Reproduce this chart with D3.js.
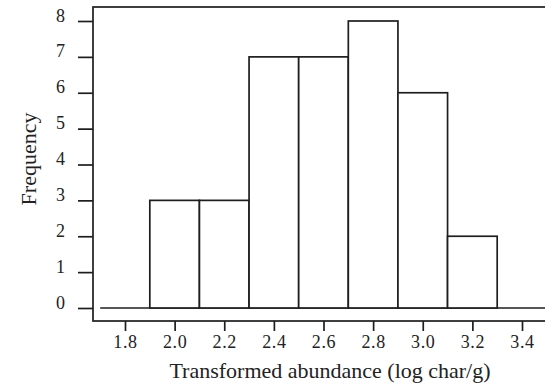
<!DOCTYPE html>
<html>
<head>
<meta charset="utf-8">
<script src="https://cdn.jsdelivr.net/npm/d3@7"></script>
<style>
	body { margin: 0; background: #fff; }
	svg { display: block; }
	text { font-family: "Liberation Serif", "DejaVu Serif", serif; fill: #222; }
</style>
</head>
<body>
<div id="chart"></div>
<script>
"use strict";

// histogram bins (lower edge, upper edge) and counts
const binStarts = [1.9, 2.1, 2.3, 2.5, 2.7, 2.9, 3.1];
const binEnds = [2.1, 2.3, 2.5, 2.7, 2.9, 3.1, 3.3];
const counts = [3, 3, 7, 7, 8, 6, 2];

const xTicks = [1.8, 2.0, 2.2, 2.4, 2.6, 2.8, 3.0, 3.2, 3.4];
const yTicks = [0, 1, 2, 3, 4, 5, 6, 7, 8];

const W = 545, H = 387;
const ink = "#1e1e1e";

const svg = d3.select("#chart")
	.append("svg")
	.attr("width", W)
	.attr("height", H);

// frame box
const frame = { left: 93, top: 7, right: 552, bottom: 321 };

// scales
const x = d3.scaleLinear().domain([1.8, 3.4]).range([125, 522]);
const y = d3.scaleLinear().domain([0, 8]).range([308, 21]);

// frame (right side runs off the page)
svg.append("rect")
	.attr("x", frame.left)
	.attr("y", frame.top)
	.attr("width", frame.right - frame.left)
	.attr("height", frame.bottom - frame.top)
	.attr("fill", "none")
	.attr("stroke", ink)
	.attr("stroke-width", 1.7);

// zero baseline
svg.append("line")
	.attr("x1", x(1.7))
	.attr("x2", frame.right)
	.attr("y1", y(0))
	.attr("y2", y(0))
	.attr("stroke", ink)
	.attr("stroke-width", 1.7);

// bars
svg.append("g")
	.selectAll("rect")
	.data(counts)
	.enter()
	.append("rect")
	.attr("x", (d, i) => x(binStarts[i]))
	.attr("width", (d, i) => x(binEnds[i]) - x(binStarts[i]))
	.attr("y", (d) => y(d))
	.attr("height", (d) => y(0) - y(d))
	.attr("fill", "#fff")
	.attr("stroke", ink)
	.attr("stroke-width", 1.7);

// y axis ticks outside the frame
const yAxis = svg.append("g")
	.attr("transform", `translate(${frame.left},0)`)
	.call(d3.axisLeft(y).tickValues(yTicks).tickFormat(d3.format("d")).tickSize(15).tickPadding(13));
yAxis.select(".domain").remove();
yAxis.selectAll(".tick line").attr("stroke", ink).attr("stroke-width", 1.7);
yAxis.selectAll(".tick text")
	.attr("font-size", 18)
	.attr("dy", "0em")
	.attr("fill", ink)
	.style("font-family", "'Liberation Serif', serif");

// x axis ticks below the frame
const xAxis = svg.append("g")
	.attr("transform", `translate(0,${frame.bottom})`)
	.call(d3.axisBottom(x).tickValues(xTicks).tickFormat(d3.format(".1f")).tickSize(10).tickPadding(4));
xAxis.select(".domain").remove();
xAxis.selectAll(".tick line").attr("stroke", ink).attr("stroke-width", 1.7);
xAxis.selectAll(".tick text")
	.attr("font-size", 18)
	.attr("letter-spacing", 0.6)
	.attr("fill", ink)
	.style("font-family", "'Liberation Serif', serif");

// axis titles
svg.append("text")
	.attr("x", 330)
	.attr("y", 378)
	.attr("text-anchor", "middle")
	.attr("font-size", 22)
	.text("Transformed abundance (log char/g)");

svg.append("text")
	.attr("transform", "translate(36,159) rotate(-90)")
	.attr("text-anchor", "middle")
	.attr("font-size", 22)
	.text("Frequency");
</script>
</body>
</html>
